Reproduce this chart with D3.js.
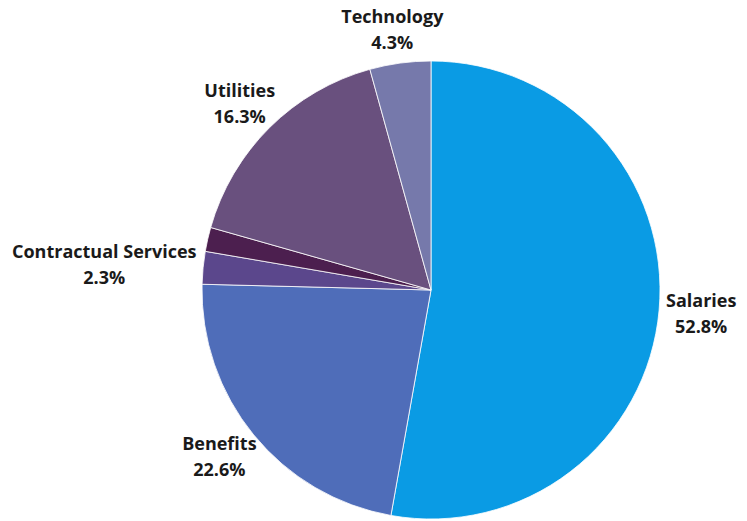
<!DOCTYPE html>
<html>
<head>
<meta charset="utf-8">
<script src="https://cdn.jsdelivr.net/npm/d3@7"></script>
<style>
  body { margin: 0; background: #fff; }
  text { font-family: "Open Sans", sans-serif; font-weight: bold; font-size: 18px; fill: #1a1a1a; }
</style>
</head>
<body>
<div id="chart"></div>
<script>
// slice order clockwise from 12 o'clock
const categories = ["Salaries", "Benefits", "Contractual Services", "Other", "Utilities", "Technology"];
const values = [52.8, 22.6, 2.3, 1.7, 16.3, 4.3];
const showLabel = [true, true, true, false, true, true];
const colors = ["#0a9be4", "#4f6db9", "#5b478c", "#4c1f4f", "#69507e", "#7679ab"];

const width = 747, height = 521;
const cx = 431, cy = 290, radius = 229;

const svg = d3.select("#chart")
    .append("svg")
    .attr("width", width)
    .attr("height", height);

const data = categories.map((c, i) => ({ name: c, value: values[i], color: colors[i], label: showLabel[i] }));

const pie = d3.pie()
    .sort(null)
    .value(d => d.value);

const arc = d3.arc()
    .innerRadius(0)
    .outerRadius(radius);

const labelArc = d3.arc()
    .innerRadius(236)
    .outerRadius(236);

const g = svg.append("g")
    .attr("transform", `translate(${cx},${cy})`);

const arcs = pie(data);

g.selectAll("path")
    .data(arcs)
    .join("path")
    .attr("d", arc)
    .attr("fill", d => d.data.color)
    .attr("stroke", "#fff")
    .attr("stroke-width", 0.8);

// labels sit just outside the rim, pushed away along the mid angle
arcs.filter(d => d.data.label).forEach(d => {
    const mid = (d.startAngle + d.endAngle) / 2;
    const [px, py] = labelArc.centroid(d);
    const t = g.append("text").attr("text-anchor", "middle");
    t.append("tspan").attr("x", 0).attr("dy", 0).text(d.data.name);
    t.append("tspan").attr("x", 0).attr("dy", 25.5).text(d.data.value.toFixed(1) + "%");
    const w = t.node().getBBox().width;
    const hw = w / 2, hh = 27;
    const bx = px + Math.sin(mid) * hw;
    const by = py - Math.cos(mid) * hh;
    t.attr("transform", `translate(${bx},${by - 6})`);
});
</script>
</body>
</html>
